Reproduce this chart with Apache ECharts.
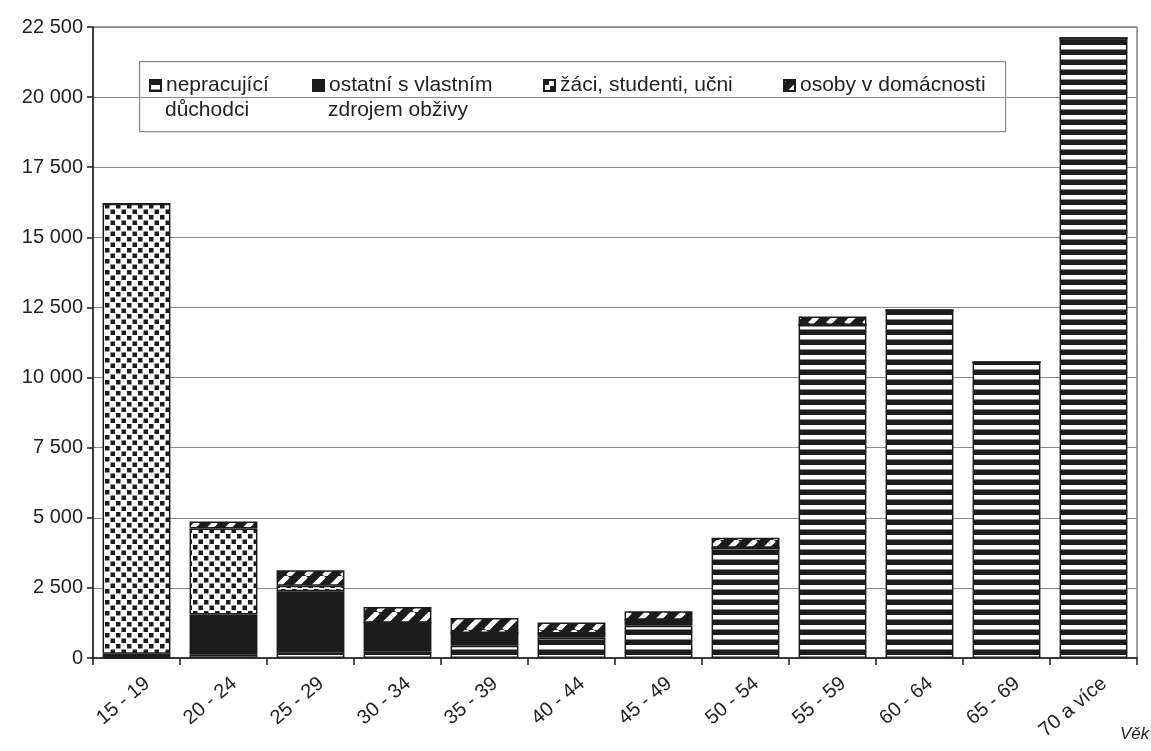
<!DOCTYPE html>
<html>
<head>
<meta charset="utf-8">
<script src="https://cdn.jsdelivr.net/npm/echarts@6/dist/echarts.min.js"></script>
<style>
html,body{margin:0;padding:0;background:#fff;}
#c{width:1151px;height:751px;}
</style>
</head>
<body>
<div id="c"></div>
<script>
// ---- data ----
const categories = ['15 - 19','20 - 24','25 - 29','30 - 34','35 - 39','40 - 44','45 - 49','50 - 54','55 - 59','60 - 64','65 - 69','70 a více'];
const duchodci   = [0, 120, 190, 240, 440, 720, 1150, 3930, 11870, 12400, 10550, 22100];
const ostatni    = [150, 1430, 2190, 1020, 450, 150, 210, 0, 0, 0, 0, 0];
const zaci       = [16050, 3070, 200, 0, 0, 0, 0, 0, 0, 0, 0, 0];
const domacnost  = [0, 250, 550, 560, 540, 400, 310, 360, 310, 0, 0, 0];
const yTicks = [0, 2500, 22500];

const INK = '#1c1c1c';
function tile(w, h, draw){
  const c = document.createElement('canvas');
  c.width = w; c.height = h;
  const g = c.getContext('2d');
  draw(g, w, h);
  return c;
}
const pHoriz = tile(10, 10, (g,w,h)=>{ g.fillStyle=INK; g.fillRect(0,0,w,h); g.fillStyle='#fff'; g.fillRect(0,5,w,4.5); });
const pDots = tile(11, 11, (g,w,h)=>{ g.fillStyle='#fff'; g.fillRect(0,0,w,h); g.fillStyle=INK; g.fillRect(0.5,0.5,4.5,4.5); g.fillRect(6,6,4.5,4.5); });
const pDiag = tile(18, 18, (g,w,h)=>{ g.fillStyle=INK; g.fillRect(0,0,w,h); g.strokeStyle='#fff'; g.lineWidth=5;
  [-18,0,18].forEach(o=>{ g.beginPath(); g.moveTo(o,h); g.lineTo(o+w,0); g.stroke(); }); });

const fmt = v => { const s = String(v); return s.length>3 ? s.slice(0,-3)+' '+s.slice(-3) : s; };

const chart = echarts.init(document.getElementById('c'), null, {renderer:'canvas'});
const font = 'Liberation Sans, Arial, sans-serif';
const mk = (name, data, pat) => ({
  name, type:'bar', stack:'a', data, barCategoryGap:'22%',
  itemStyle:{ color:{image:pat, repeat:'repeat'}, borderColor:INK, borderWidth:1.5 },
  emphasis:{disabled:true}
});
const legendItem = (name, left) => ({
  data:[name], left, top:75, padding:0, itemWidth:11, itemHeight:11, itemGap:0,
  icon:'rect', selectedMode:false,
  textStyle:{fontFamily:font, fontSize:21, color:'#222'},
  formatter: n => n.split('\n')[0]
});
chart.setOption({
  animation:false,
  backgroundColor:'#fff',
  grid:{left:93, right:14, top:27, bottom:93, show:true, borderColor:'#444', borderWidth:1, backgroundColor:'transparent'},
  xAxis:{
    type:'category', data:categories,
    axisLine:{lineStyle:{color:INK, width:1.5}},
    axisTick:{show:true, length:7, lineStyle:{color:INK, width:1.5}},
    axisLabel:{rotate:40, fontFamily:font, fontSize:20, color:'#222', margin:32, padding:[0,-14,0,0]}
  },
  yAxis:{
    type:'value', min:yTicks[0], max:yTicks[2], interval:yTicks[1],
    axisLine:{show:true, lineStyle:{color:INK, width:1.5}},
    axisTick:{show:true, length:6, lineStyle:{color:INK, width:1.5}},
    splitLine:{lineStyle:{color:'#8a8a8a', width:1}},
    axisLabel:{fontFamily:font, fontSize:20, color:'#222', margin:10, formatter:fmt}
  },
  legend:[
    legendItem('nepracující\ndůchodci', 149),
    legendItem('ostatní s vlastním\nzdrojem obživy', 312),
    legendItem('žáci, studenti, učni', 543),
    legendItem('osoby v domácnosti', 783)
  ],
  graphic:[
    {type:'rect', z:0, left:139, top:61, shape:{width:866, height:70}, style:{fill:'#fff', stroke:'#8a8a8a', lineWidth:1.2}},
    {type:'text', z:10, left:165, top:100, style:{text:'důchodci', font:'21px '+font, fill:'#222'}},
    {type:'text', z:10, left:328, top:100, style:{text:'zdrojem obživy', font:'21px '+font, fill:'#222'}},
    {type:'text', z:10, left:1120, top:726, style:{text:'Věk', font:'italic 17px '+font, fill:'#222'}}
  ],
  series:[
    mk('nepracující\ndůchodci', duchodci, pHoriz),
    mk('ostatní s vlastním\nzdrojem obživy', ostatni, INK),
    mk('žáci, studenti, učni', zaci, pDots),
    mk('osoby v domácnosti', domacnost, pDiag)
  ].map((s,i)=> i===1 ? Object.assign(s,{itemStyle:{color:INK, borderColor:INK, borderWidth:1.5}}) : s)
});
</script>
</body>
</html>
